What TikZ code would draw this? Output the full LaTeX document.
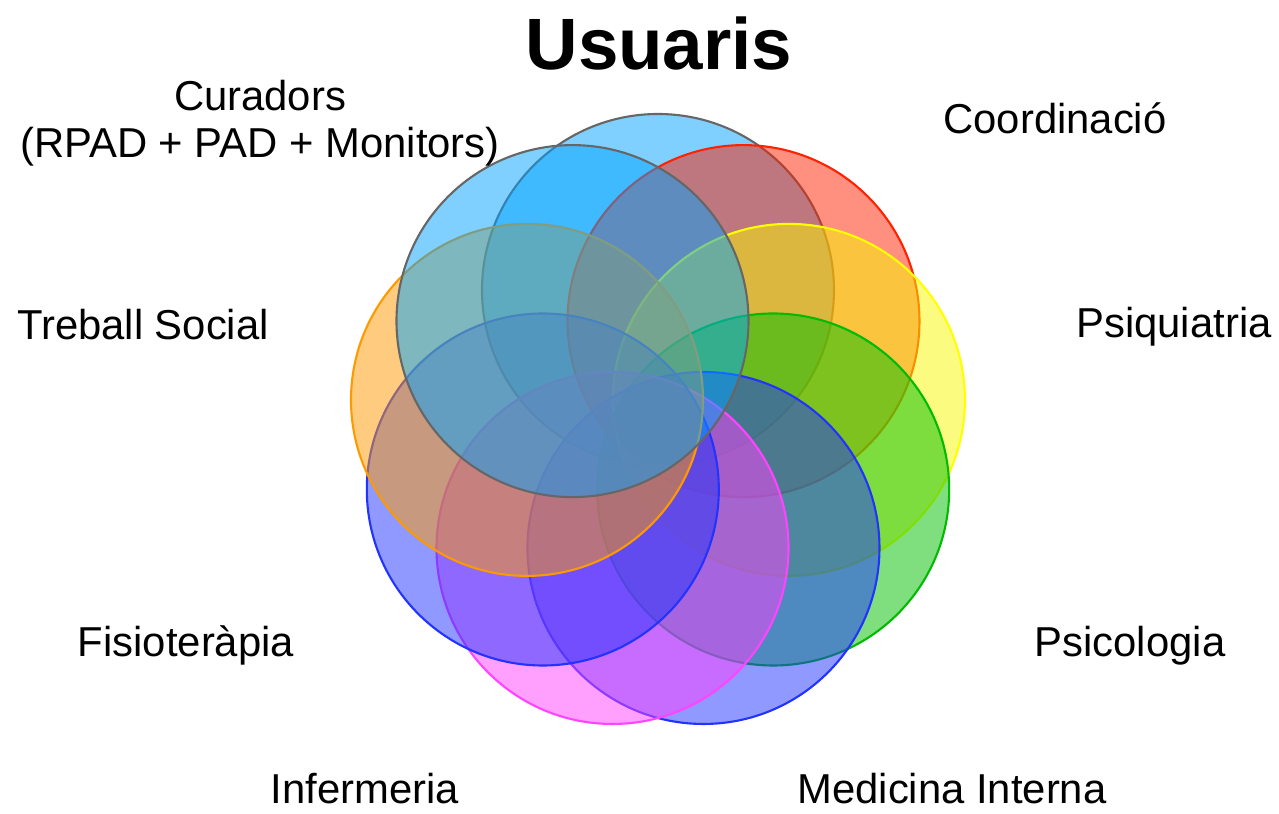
\documentclass[tikz,border=0pt]{standalone}
\usepackage{fontspec}
\setmainfont{Liberation Sans}
\definecolor{skyfill}{HTML}{00A2FF}
\definecolor{redfill}{HTML}{FF2000}
\definecolor{yellowfill}{HTML}{F8F800}
\definecolor{greenfill}{HTML}{00C000}
\definecolor{bluefill}{HTML}{1F33FF}
\definecolor{magentafill}{HTML}{FF41FF}
\definecolor{orangefill}{HTML}{FF9900}
\definecolor{grayline}{HTML}{666666}
\definecolor{redline}{HTML}{FF2200}
\definecolor{yellowline}{HTML}{FFFF00}
\definecolor{greenline}{HTML}{00BB00}
\definecolor{blueline}{HTML}{2233FF}
\definecolor{magentaline}{HTML}{FF44FF}
\definecolor{orangeline}{HTML}{FF9900}

\begin{document}
\begin{tikzpicture}[x=0.02cm,y=0.02cm,line width=1.2pt,
    lbl/.style={font=\fontsize{23.8}{27.2}\selectfont,anchor=base,inner sep=0pt}]
  \useasboundingbox (-658,-391) rectangle (621,423);
  % the nine petals, clockwise from the top
  \foreach \a/\f/\d in {90/skyfill/grayline, 50/redfill/redline,
      10/yellowfill/yellowline, -30/greenfill/greenline,
      -70/bluefill/blueline, -110/magentafill/magentaline,
      -150/bluefill/blueline, 170/orangefill/orangeline,
      130/skyfill/grayline}
    \draw[draw=\d,fill=\f,fill opacity=0.5] (\a:133) circle (176);
  % labels
  \node[lbl,font=\fontsize{41.4}{45}\selectfont\bfseries] (usuaris) at (1,353) {Usuaris};
  \node[lbl,align=center] (curadors) at (-398,265) {Curadors\\(RPAD + PAD + Monitors)};
  \node[lbl] (coord) at (397,289) {Coordinació};
  \node[lbl] (social) at (-515,83) {Treball Social};
  \node[lbl] (psiq) at (516,85) {Psiquiatria};
  \node[lbl] (fisio) at (-472,-234) {Fisioteràpia};
  \node[lbl] (psico) at (472,-234) {Psicologia};
  \node[lbl] (inferm) at (-293,-381) {Infermeria};
  \node[lbl] (medint) at (294,-381) {Medicina Interna};
\end{tikzpicture}
\end{document}
